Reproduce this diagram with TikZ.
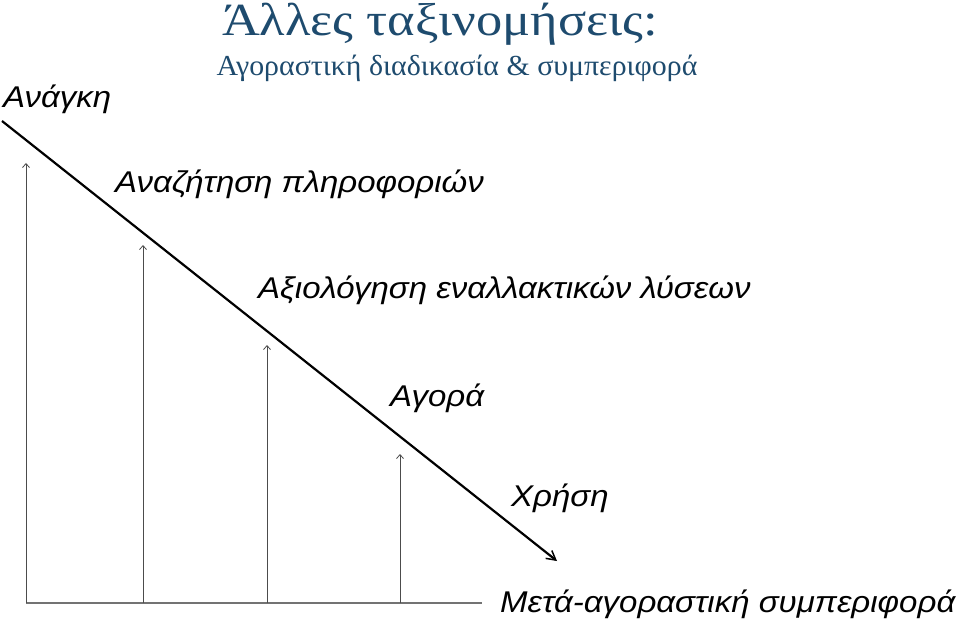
\documentclass[tikz,border=0pt]{standalone}
\usepackage{fontspec}
\usetikzlibrary{arrows.meta}
\setmainfont{Liberation Serif}
\newfontfamily\stagefont[FakeStretch=1.1]{Liberation Sans}
\newfontfamily\titlefont[FakeStretch=1.14]{Liberation Serif}
\newfontfamily\subtitlefont[FakeStretch=1.03]{Liberation Serif}
\definecolor{titleblue}{RGB}{30,75,110}
\begin{document}
\begin{tikzpicture}[x=1pt,y=-1pt,
  stage/.style={anchor=base west,inner sep=0pt,font=\stagefont\itshape\fontsize{30}{30}\selectfont},
  riser/.style={draw=black!70,line width=0.8pt,-{Straight Barb[length=4pt,width=7pt]}}]
\useasboundingbox (0,0) rectangle (959,623);

% titles
\node[anchor=base,inner sep=0pt,text=titleblue,font=\titlefont\fontsize{46}{46}\selectfont] (title) at (440,36) {Άλλες ταξινομήσεις:};
\node[anchor=base,inner sep=0pt,text=titleblue,font=\subtitlefont\fontsize{29}{29}\selectfont] (subtitle) at (457,76) {Αγοραστική διαδικασία \& συμπεριφορά};

% stages
\node[stage] (need) at (3,108) {Ανάγκη};
\node[stage] (search) at (115,193) {Αναζήτηση πληροφοριών};
\node[stage] (eval) at (258,298) {Αξιολόγηση εναλλακτικών λύσεων};
\node[stage] (buy) at (390,406) {Αγορά};
\node[stage] (use) at (511,506) {Χρήση};
\node[stage] (after) at (500,612) {Μετά-αγοραστική συμπεριφορά};

% diagonal
\coordinate (start) at (2,121);
\coordinate (stop) at (557,561);
\draw[line width=2.2pt,-{Straight Barb[length=9pt,width=10pt,line width=1.5pt]}] (start) -- (stop);

% base and risers
\coordinate (b0) at (26,603);
\coordinate (b1) at (143,603);
\coordinate (b2) at (267,603);
\coordinate (b3) at (400,603);
\coordinate (bend) at (482,603);
\draw[draw=black!55,line width=1.6pt] (b0) -- (bend);
\draw[riser] (b0) -- (26,163);
\draw[riser] (b1) -- (143,245);
\draw[riser] (b2) -- (267,345);
\draw[riser] (b3) -- (400,454);

\end{tikzpicture}
\end{document}
